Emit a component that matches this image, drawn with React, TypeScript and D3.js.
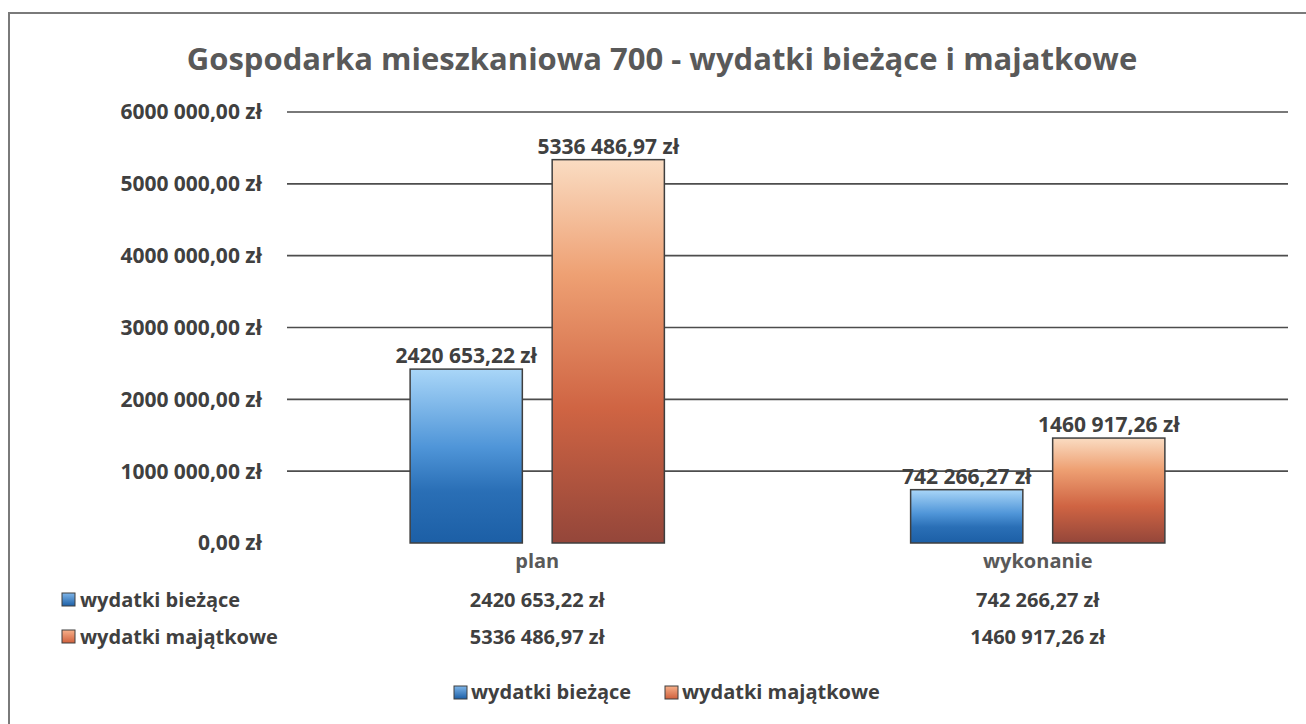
import React from "react";
import * as d3 from "d3";

const categories = ["plan", "wykonanie"];
const seriesNames = ["wydatki bieżące", "wydatki majątkowe"];
const biezace = [2420653.22, 742266.27];
const majatkowe = [5336486.97, 1460917.26];
const yTicks = [0, 1000000, 2000000, 3000000, 4000000, 5000000, 6000000];
const title = "Gospodarka mieszkaniowa 700 - wydatki bieżące i majatkowe";

const W = 1306;
const H = 724;
const FONT = "'Open Sans', 'DejaVu Sans', sans-serif";
const TXT = "#404040";
const FS = 20;
const FS_NUM = 21;

const pl = d3.formatLocale({
  decimal: ",",
  thousands: " ",
  grouping: [3, 4],
  currency: ["", " zł"],
});
const fmt = (v: number) => pl.format(",.2f")(v) + " zł";

export default function App() {
  const y = d3.scaleLinear().domain([0, 6000000]).range([543, 112]);
  const x = d3.scaleBand<string>().domain(categories).range([287, 1288]).padding(0);
  const values = [biezace, majatkowe];
  const gradIds = ["gBlue", "gOrange"];

  const bars: any[] = [];
  categories.forEach((c, ci) => {
    const cx = x(c)! + x.bandwidth() / 2;
    const gw = x.bandwidth() * 0.508;
    const inner = d3
      .scaleBand<number>()
      .domain([0, 1])
      .range([cx - gw / 2, cx + gw / 2])
      .paddingInner(0.21);
    values.forEach((vals, si) => {
      bars.push({ c, ci, si, v: vals[ci], x0: inner(si)!, w: inner.bandwidth() });
    });
  });
  const cxOf = (c: string) => x(c)! + x.bandwidth() / 2;

  return (
    <svg width={W} height={H} style={{ position: "absolute", left: 0, top: 0, background: "#fff" }}>
      <defs>
        <linearGradient id="gBlue" x1="0" y1="0" x2="0" y2="1">
          <stop offset="0" stopColor="#a9d6f8" />
          <stop offset="0.45" stopColor="#4f95d8" />
          <stop offset="0.7" stopColor="#2a6fb6" />
          <stop offset="1" stopColor="#1c5fa6" />
        </linearGradient>
        <linearGradient id="gOrange" x1="0" y1="0" x2="0" y2="1">
          <stop offset="0" stopColor="#fadcc2" />
          <stop offset="0.3" stopColor="#eea073" />
          <stop offset="0.65" stopColor="#cf6443" />
          <stop offset="1" stopColor="#94463a" />
        </linearGradient>
        <linearGradient id="gBlueL" x1="0" y1="0" x2="0" y2="1">
          <stop offset="0" stopColor="#7fb6ea" />
          <stop offset="1" stopColor="#1c5fa6" />
        </linearGradient>
        <linearGradient id="gOrangeL" x1="0" y1="0" x2="0" y2="1">
          <stop offset="0" stopColor="#f7b08a" />
          <stop offset="1" stopColor="#d0603c" />
        </linearGradient>
      </defs>

      <rect x={9} y={13} width={1330} height={740} fill="none" stroke="#7a7a7a" strokeWidth={2} />

      <text x={662} y={70} textAnchor="middle" fontFamily={FONT} fontWeight={700} fontSize={31} fill="#595959">
        {title}
      </text>

      {yTicks.map((t) => (
        <g key={t}>
          {t > 0 && (
            <line x1={287} x2={1288} y1={y(t)} y2={y(t)} stroke="#4d4d4d" strokeWidth={1.6} />
          )}
          <text x={262} y={y(t)} dy="0.35em" textAnchor="end" fontFamily={FONT} fontWeight={700} fontSize={FS_NUM} fill={TXT}>
            {fmt(t)}
          </text>
        </g>
      ))}

      {bars.map((b, i) => (
        <g key={i}>
          <rect
            x={b.x0}
            y={y(b.v)}
            width={b.w}
            height={y(0) - y(b.v)}
            fill={`url(#${gradIds[b.si]})`}
            stroke="#3f3f3f"
            strokeWidth={1.5}
          />
          <text
            x={b.x0 + b.w / 2}
            y={y(b.v) - 6}
            textAnchor="middle"
            fontFamily={FONT}
            fontWeight={700}
            fontSize={FS_NUM}
            fill={TXT}
          >
            {fmt(b.v)}
          </text>
        </g>
      ))}

      {categories.map((c) => (
        <text key={c} x={cxOf(c)} y={568} textAnchor="middle" fontFamily={FONT} fontWeight={700} fontSize={FS} fill="#595959">
          {c}
        </text>
      ))}

      {seriesNames.map((s, si) => {
        const rowY = 607 + si * 37;
        return (
          <g key={s}>
            <rect x={62} y={rowY - 14} width={13} height={13} fill={`url(#${gradIds[si]}L)`} stroke="#3f3f3f" strokeWidth={1} />
            <text x={80} y={rowY} fontFamily={FONT} fontWeight={700} fontSize={FS} fill={TXT}>
              {s}
            </text>
            {categories.map((c, ci) => (
              <text key={c} x={cxOf(c)} y={rowY} textAnchor="middle" fontFamily={FONT} fontWeight={700} fontSize={FS} fill={TXT}>
                {fmt(values[si][ci])}
              </text>
            ))}
          </g>
        );
      })}

      {seriesNames.map((s, si) => {
        const lx = si === 0 ? 454 : 665;
        return (
          <g key={s}>
            <rect x={lx} y={686} width={13} height={13} fill={`url(#${gradIds[si]}L)`} stroke="#3f3f3f" strokeWidth={1} />
            <text x={lx + 17} y={699} fontFamily={FONT} fontWeight={700} fontSize={FS} fill={TXT}>
              {s}
            </text>
          </g>
        );
      })}
    </svg>
  );
}
